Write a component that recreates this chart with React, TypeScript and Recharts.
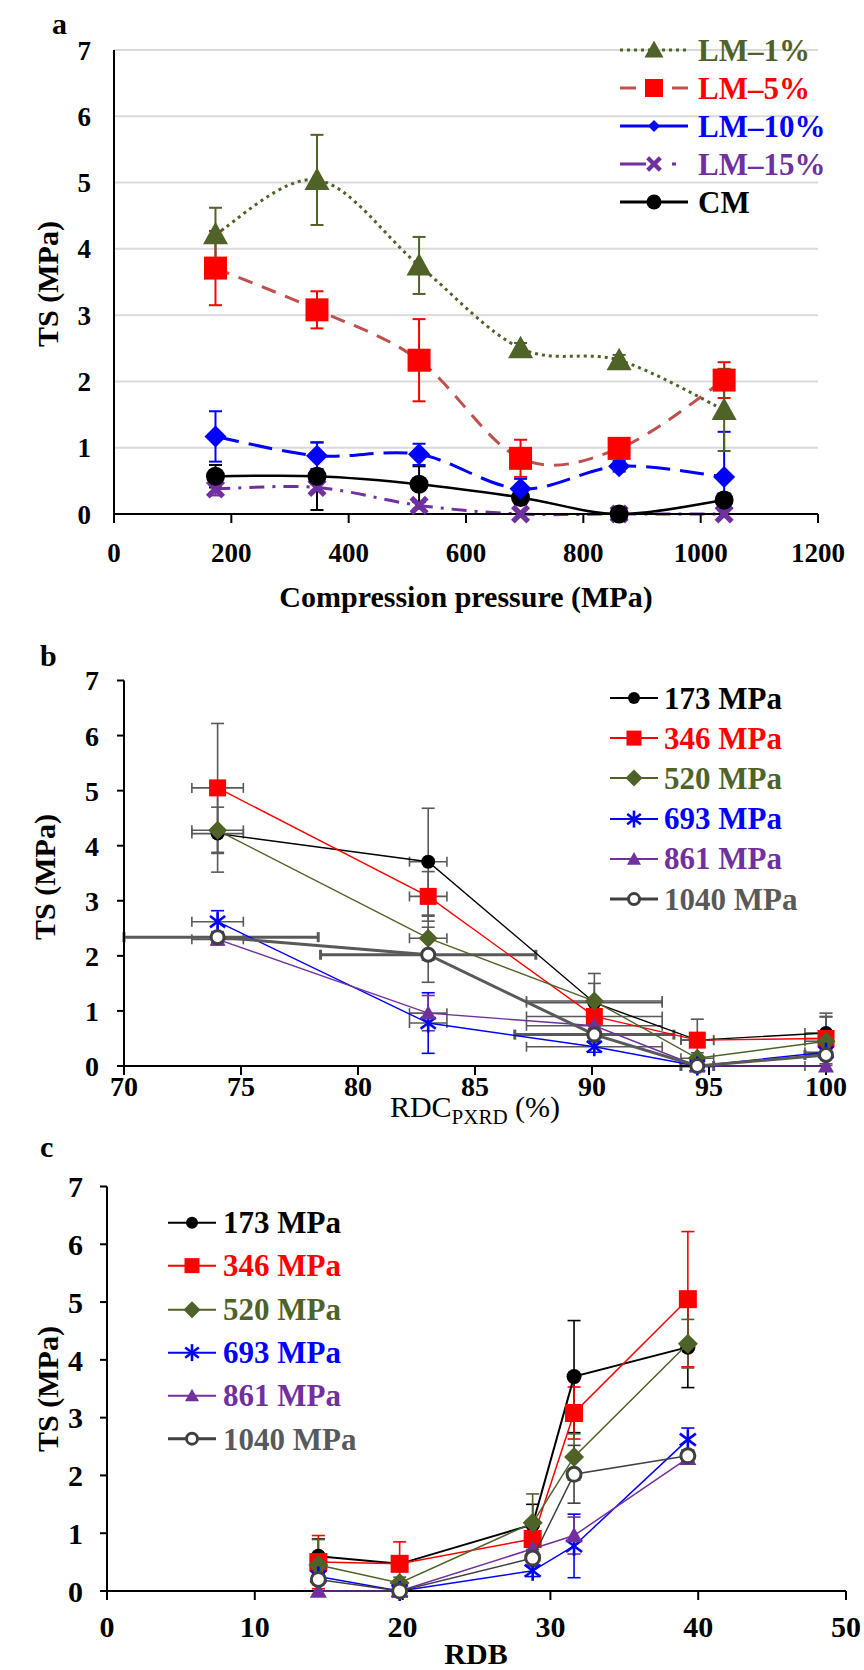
import React from "react"
import {
	LineChart,
	Line,
	ScatterChart,
	Scatter,
	XAxis,
	YAxis,
	CartesianGrid,
	ErrorBar,
	Legend,
} from "recharts"

const FONT = "'Liberation Serif', 'Times New Roman', serif"
const OLIVE = "#4F6228"
const RED = "#FF0000"
const BRICK = "#C0504D"
const BLUE = "#0000FF"
const PURPLE = "#7030A0"
const GREY = "#595959"

// (a) tensile strength vs compression pressure
const pressures = [173, 346, 520, 693, 861, 1040]
const lm1 = [4.22, 5.04, 3.75, 2.5, 2.32, 1.57]
const lm1Err = [0.4, 0.68, 0.43, 0.08, 0.08, 0.62]
const lm5 = [3.71, 3.08, 2.32, 0.84, 0.99, 2.02]
const lm5Err = [0.56, 0.28, 0.62, 0.28, 0.08, 0.27]
const lm10 = [1.17, 0.88, 0.9, 0.38, 0.72, 0.56]
const lm10Err = [0.38, 0.2, 0.16, 0.15, 0.08, 0.68]
const lm15 = [0.38, 0.4, 0.13, 0, 0, 0]
const lm15Err = [0.1, 0.05, 0.05, 0, 0, 0]
const cm = [0.57, 0.57, 0.45, 0.25, 0, 0.21]
const cmErr = [0.17, 0.51, 0.27, 0.1, 0, 0.1]

// (b, c) same tablets against RDC (PXRD) and RDB
// order of points: LM-1%, LM-5%, LM-10%, LM-15%, CM
const rdc = [74, 83, 90.1, 94.5, 100]
const rdcErr = [1.1, 0.8, 2.9, 0.7, 0.9]
const rdcErr1040 = [4.3, 4.6, 3.4, 0.7, 0.9]
const rdb = [39.3, 31.6, 28.8, 19.8, 14.3]
const ts173 = [4.22, 3.71, 1.15, 0.47, 0.6]
const ts173Err = [0.7, 0.97, 0.35, 0.1, 0.3]
const ts346 = [5.05, 3.08, 0.9, 0.47, 0.5]
const ts346Err = [1.17, 0.45, 0.3, 0.38, 0.46]
const ts520 = [4.28, 2.32, 1.18, 0.14, 0.45]
const ts520Err = [0.42, 0.4, 0.5, 0.1, 0.44]
const ts693 = [2.62, 0.78, 0.35, 0, 0.25]
const ts693Err = [0.2, 0.55, 0.1, 0, 0.1]
const ts861 = [2.3, 0.96, 0.73, 0, 0]
const ts861Err = [0.1, 0.32, 0.1, 0, 0]
const ts1040 = [2.34, 2.02, 0.57, 0, 0.2]
const ts1040Err = [0.1, 0.5, 0.15, 0, 0.05]

// error bars never reach below zero strength
const errPair = (v: number, e: number) => [Math.min(e, v), e]

const rowsA = pressures.map((p, i) => ({
	p,
	lm1: lm1[i],
	lm1e: errPair(lm1[i], lm1Err[i]),
	lm5: lm5[i],
	lm5e: errPair(lm5[i], lm5Err[i]),
	lm10: lm10[i],
	lm10e: errPair(lm10[i], lm10Err[i]),
	lm15: lm15[i],
	lm15e: errPair(lm15[i], lm15Err[i]),
	cm: cm[i],
	cme: errPair(cm[i], cmErr[i]),
}))

// fixed domains that are not widened by error bars
const fixed = (lo: number, hi: number): any => [() => lo, () => hi]

// Excel-like smoothed line (Catmull-Rom through the points)
const smooth = (context: any) => {
	let pts: number[][] = []
	return {
		areaStart() {},
		areaEnd() {},
		lineStart() {
			pts = []
		},
		point(x: number, y: number) {
			pts.push([+x, +y])
		},
		lineEnd() {
			if (!pts.length) return
			context.moveTo(pts[0][0], pts[0][1])
			for (let i = 0; i < pts.length - 1; i++) {
				const p0 = pts[Math.max(i - 1, 0)]
				const p1 = pts[i]
				const p2 = pts[i + 1]
				const p3 = pts[Math.min(i + 2, pts.length - 1)]
				context.bezierCurveTo(
					p1[0] + (p2[0] - p0[0]) / 6,
					p1[1] + (p2[1] - p0[1]) / 6,
					p2[0] - (p3[0] - p1[0]) / 6,
					p2[1] - (p3[1] - p1[1]) / 6,
					p2[0],
					p2[1]
				)
			}
		},
	}
}

type Kind = "triangle" | "square" | "diamond" | "x" | "circle" | "star" | "open"

const Marker = ({ kind, cx, cy, size, color }: { kind: Kind; cx: number; cy: number; size: number; color: string }) => {
	const h = size / 2
	if (cx == null || cy == null) return null
	switch (kind) {
		case "triangle":
			return <polygon points={`${cx},${cy - h} ${cx - h},${cy + h * 0.8} ${cx + h},${cy + h * 0.8}`} fill={color} />
		case "square":
			return <rect x={cx - h} y={cy - h} width={size} height={size} fill={color} />
		case "diamond":
			return <polygon points={`${cx},${cy - h} ${cx + h},${cy} ${cx},${cy + h} ${cx - h},${cy}`} fill={color} />
		case "x":
			return (
				<g stroke={color} strokeWidth={size * 0.24}>
					<line x1={cx - h * 0.7} y1={cy - h * 0.7} x2={cx + h * 0.7} y2={cy + h * 0.7} />
					<line x1={cx - h * 0.7} y1={cy + h * 0.7} x2={cx + h * 0.7} y2={cy - h * 0.7} />
				</g>
			)
		case "circle":
			return <circle cx={cx} cy={cy} r={h} fill={color} />
		case "star":
			return (
				<g stroke={color} strokeWidth={2.6}>
					<line x1={cx} y1={cy - h} x2={cx} y2={cy + h} />
					<line x1={cx - h * 0.8} y1={cy - h * 0.6} x2={cx + h * 0.8} y2={cy + h * 0.6} />
					<line x1={cx - h * 0.8} y1={cy + h * 0.6} x2={cx + h * 0.8} y2={cy - h * 0.6} />
				</g>
			)
		case "open":
			return <circle cx={cx} cy={cy} r={h - 1.5} fill="#FFFFFF" stroke={color} strokeWidth={3} />
	}
	return null
}

const seriesA = [
	{ key: "lm15", name: "LM–15%", color: PURPLE, line: PURPLE, dash: "15 8 3 8", marker: "x" as Kind, size: 22, legendDash: "26 26 4 12", legendSize: 18 },
	{ key: "cm", name: "CM", color: "#000000", line: "#000000", dash: undefined, marker: "circle" as Kind, size: 19, legendDash: undefined, legendSize: 15 },
	{ key: "lm10", name: "LM–10%", color: BLUE, line: BLUE, dash: "24 10", marker: "diamond" as Kind, size: 22, legendDash: undefined, legendSize: 12 },
	{ key: "lm5", name: "LM–5%", color: RED, line: BRICK, dash: "15 10", marker: "square" as Kind, size: 23, legendDash: "16 36 16", legendSize: 18 },
	{ key: "lm1", name: "LM–1%", color: OLIVE, line: OLIVE, dash: "3 4", marker: "triangle" as Kind, size: 25, legendDash: "3 4", legendSize: 19 },
]
const legendOrderA = ["lm1", "lm5", "lm10", "lm15", "cm"]

const seriesBC = [
	{ name: "173 MPa", ts: ts173, err: ts173Err, xErr: rdcErr, color: "#000000", text: "#000000", marker: "circle" as Kind, size: 14, lw: 1.4, bar: GREY },
	{ name: "346 MPa", ts: ts346, err: ts346Err, xErr: rdcErr, color: RED, text: RED, marker: "square" as Kind, size: 17, lw: 1.4, bar: GREY },
	{ name: "520 MPa", ts: ts520, err: ts520Err, xErr: rdcErr, color: OLIVE, text: OLIVE, marker: "diamond" as Kind, size: 19, lw: 1.4, bar: GREY },
	{ name: "693 MPa", ts: ts693, err: ts693Err, xErr: rdcErr, color: BLUE, text: BLUE, marker: "star" as Kind, size: 19, lw: 1.4, bar: BLUE },
	{ name: "861 MPa", ts: ts861, err: ts861Err, xErr: rdcErr, color: PURPLE, text: PURPLE, marker: "triangle" as Kind, size: 16, lw: 1.4, bar: PURPLE },
	{ name: "1040 MPa", ts: ts1040, err: ts1040Err, xErr: rdcErr1040, color: "#404040", text: GREY, marker: "open" as Kind, size: 16, lw: 3, bar: GREY },
]

const tickFont = (size: number) => ({ fill: "#000000", fontSize: size, fontWeight: 700, fontFamily: FONT })
const axisStroke = { stroke: "#000000", strokeWidth: 2 }

const yTitle = (x: number, cy: number) => () => (
	<text
		transform={`translate(${x},${cy}) rotate(-90)`}
		textAnchor="middle"
		dominantBaseline="central"
		fontFamily={FONT}
		fontSize={30}
		fontWeight={700}
		fill="#000000"
	>
		TS (MPa)
	</text>
)

const LegendRow = ({ label, color, textColor, kind, size, dash, lineColor, lineWidth, h, svgW, gap }: any) => (
	<div style={{ display: "flex", alignItems: "center", height: h }}>
		<svg width={svgW} height={h} style={{ display: "block" }}>
			<line x1={2} x2={svgW - 2} y1={h / 2} y2={h / 2} stroke={lineColor} strokeWidth={lineWidth} strokeDasharray={dash} />
			<Marker kind={kind} cx={svgW / 2} cy={h / 2} size={size} color={color} />
		</svg>
		<span style={{ marginLeft: gap, color: textColor, fontFamily: FONT, fontWeight: 700, fontSize: 31, lineHeight: 1, whiteSpace: "nowrap" }}>
			{label}
		</span>
	</div>
)

const LegendA = () => (
	<div>
		{legendOrderA.map((k) => {
			const s = seriesA.find((d) => d.key === k)!
			return (
				<LegendRow
					key={k}
					label={s.name}
					color={s.color}
					textColor={s.color}
					kind={s.marker}
					size={s.legendSize}
					dash={s.legendDash}
					lineColor={s.line}
					lineWidth={3}
					h={38}
					svgW={72}
					gap={8}
				/>
			)
		})}
	</div>
)

const LegendBC = ({ h, gap }: { h: number; gap: number }) => (
	<div>
		{seriesBC.map((s) => (
			<LegendRow
				key={s.name}
				label={s.name}
				color={s.color}
				textColor={s.text}
				kind={s.marker}
				size={s.size - 2}
				dash={undefined}
				lineColor={s.color}
				lineWidth={s.marker === "open" ? 3 : 2}
				h={h}
				svgW={52}
				gap={gap}
			/>
		))}
	</div>
)

const PanelA = () => (
	<LineChart width={864} height={625} data={rowsA} margin={{ top: 50, right: 46, bottom: 0, left: 0 }}>
		<CartesianGrid vertical={false} stroke="#D9D9D9" strokeWidth={2} />
		<XAxis
			type="number"
			dataKey="p"
			domain={[0, 1200]}
			ticks={[0, 200, 400, 600, 800, 1000, 1200]}
			interval={0}
			height={111}
			tickSize={9}
			tickMargin={20}
			axisLine={axisStroke}
			tickLine={axisStroke}
			tick={tickFont(27)}
			label={() => (
				<text x={466} y={607} textAnchor="middle" fontFamily={FONT} fontSize={30} fontWeight={700} fill="#000000">
					Compression pressure (MPa)
				</text>
			)}
		/>
		<YAxis
			type="number"
			domain={[0, 7]}
			ticks={[0, 1, 2, 3, 4, 5, 6, 7]}
			interval={0}
			width={114}
			tickLine={false}
			tickSize={7}
			tickMargin={16}
			axisLine={axisStroke}
			tick={tickFont(27)}
			label={yTitle(47, 284)}
		/>
		{/* same scale, used only by the error bars so they cannot widen the visible axis */}
		<YAxis yAxisId="err" hide type="number" domain={[0, 7]} allowDataOverflow />
		<Legend
			layout="horizontal"
			verticalAlign="middle"
			align="center"
			content={() => <LegendA />}
			wrapperStyle={{ top: 31, left: 618, width: 240, height: 190 }}
		/>
		{seriesA.map((s) => (
			<Line
				key={`${s.key}-err`}
				yAxisId="err"
				dataKey={s.key}
				stroke="none"
				dot={false}
				activeDot={false}
				legendType="none"
				isAnimationActive={false}
			>
				<ErrorBar dataKey={`${s.key}e`} direction="y" width={6.5} stroke={s.color} strokeWidth={2} isAnimationActive={false} />
			</Line>
		))}
		{seriesA.map((s) => (
			<Line
				key={s.key}
				dataKey={s.key}
				type={smooth as any}
				stroke={s.line}
				strokeWidth={s.key === "cm" ? 2.5 : 3}
				strokeDasharray={s.dash}
				isAnimationActive={false}
				dot={(p: any) => <Marker key={`${s.key}-${p.index}`} kind={s.marker} cx={p.cx} cy={p.cy} size={s.size} color={s.color} />}
				activeDot={false}
			/>
		))}
	</LineChart>
)

const clampErr = (x: number, e: number, lo: number, hi: number) => [Math.min(e, x - lo), Math.min(e, hi - x)]

const PanelB = () => (
	<ScatterChart width={864} height={530} margin={{ top: 55.5, right: 38, bottom: 0, left: 0 }}>
		<XAxis
			type="number"
			dataKey="x"
			domain={fixed(70, 100)}
			ticks={[70, 75, 80, 85, 90, 95, 100]}
			interval={0}
			height={89}
			tickSize={9}
			tickMargin={1}
			axisLine={axisStroke}
			tickLine={axisStroke}
			tick={tickFont(28)}
			label={() => (
				<text x={475} y={492} textAnchor="middle" fontFamily={FONT} fontSize={30} fill="#000000">
					RDC
					<tspan fontSize={21} dy={7}>
						PXRD
					</tspan>
					<tspan dy={-7}> (%)</tspan>
				</text>
			)}
		/>
		<YAxis
			type="number"
			dataKey="y"
			domain={fixed(0, 7)}
			ticks={[0, 1, 2, 3, 4, 5, 6, 7]}
			interval={0}
			width={124}
			tickSize={7}
			tickMargin={18}
			axisLine={axisStroke}
			tickLine={axisStroke}
			tick={tickFont(28)}
			label={yTitle(44, 252)}
		/>
		<Legend
			layout="horizontal"
			verticalAlign="middle"
			align="center"
			content={() => <LegendBC h={40.2} gap={4} />}
			wrapperStyle={{ top: 53, left: 608, width: 250, height: 245 }}
		/>
		{seriesBC.map((s) => (
			<Scatter
				key={s.name}
				name={s.name}
				data={rdc.map((x, i) => ({ x, y: s.ts[i], ey: s.err[i], ex: clampErr(x, s.xErr[i], 70, 100) }))}
				fill={s.color}
				line={{ stroke: s.marker === "open" ? GREY : s.color, strokeWidth: s.lw }}
				lineType="joint"
				isAnimationActive={false}
				shape={(p: any) => <Marker kind={s.marker} cx={p.cx} cy={p.cy} size={s.size} color={s.color} />}
			>
				<ErrorBar dataKey="ex" direction="x" width={5} stroke={GREY} strokeWidth={s.marker === "open" ? 3 : 1.6} isAnimationActive={false} />
				<ErrorBar dataKey="ey" direction="y" width={6.5} stroke={s.bar} strokeWidth={1.6} isAnimationActive={false} />
			</Scatter>
		))}
	</ScatterChart>
)

const PanelC = () => (
	<ScatterChart width={864} height={520} margin={{ top: 36.5, right: 18, bottom: 0, left: 0 }}>
		<XAxis
			type="number"
			dataKey="x"
			domain={fixed(0, 50)}
			ticks={[0, 10, 20, 30, 40, 50]}
			interval={0}
			height={79}
			tickSize={9}
			tickMargin={16}
			axisLine={axisStroke}
			tickLine={axisStroke}
			tick={tickFont(30)}
			label={() => (
				<text x={476} y={514} textAnchor="middle" fontFamily={FONT} fontSize={30} fontWeight={700} fill="#000000">
					RDB
				</text>
			)}
		/>
		<YAxis
			type="number"
			dataKey="y"
			domain={fixed(0, 7)}
			ticks={[0, 1, 2, 3, 4, 5, 6, 7]}
			interval={0}
			width={107}
			tickSize={7}
			tickMargin={17}
			axisLine={axisStroke}
			tickLine={axisStroke}
			tick={tickFont(30)}
			label={yTitle(47, 239)}
		/>
		<Legend
			layout="horizontal"
			verticalAlign="middle"
			align="center"
			content={() => <LegendBC h={43.3} gap={5} />}
			wrapperStyle={{ top: 51, left: 166, width: 260, height: 262 }}
		/>
		{seriesBC.map((s) => (
			<Scatter
				key={s.name}
				name={s.name}
				data={rdb.map((x, i) => ({ x, y: s.ts[i], ey: s.err[i] }))}
				fill={s.color}
				line={{ stroke: s.color, strokeWidth: s.marker === "circle" ? 2 : 1.5 }}
				lineType="joint"
				isAnimationActive={false}
				shape={(p: any) => <Marker kind={s.marker} cx={p.cx} cy={p.cy} size={s.size + 1} color={s.color} />}
			>
				<ErrorBar dataKey="ey" direction="y" width={6.5} stroke={s.color} strokeWidth={1.6} isAnimationActive={false} />
			</Scatter>
		))}
	</ScatterChart>
)

const App = () => (
	<div style={{ position: "absolute", left: 0, top: 0, width: 864, height: 1670, background: "#FFFFFF" }}>
		<div style={{ position: "absolute", left: 0, top: 0 }}>
			<PanelA />
		</div>
		<div style={{ position: "absolute", left: 0, top: 625 }}>
			<PanelB />
		</div>
		<div style={{ position: "absolute", left: 0, top: 1150 }}>
			<PanelC />
		</div>
		<svg width={864} height={1670} style={{ position: "absolute", left: 0, top: 0, pointerEvents: "none" }}>
			<g fontFamily={FONT} fontSize={30} fontWeight={700} fill="#000000">
				<text x={52} y={34}>a</text>
				<text x={40} y={666}>b</text>
				<text x={40} y={1157}>c</text>
			</g>
		</svg>
	</div>
)

export default App
